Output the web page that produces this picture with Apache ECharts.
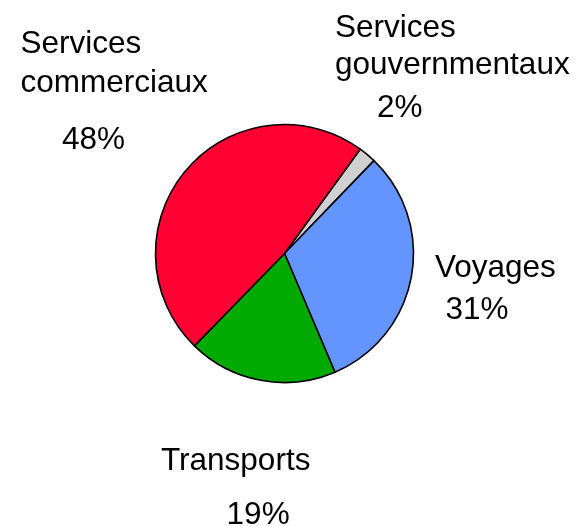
<!DOCTYPE html>
<html>
<head>
<meta charset="utf-8">
<script src="https://cdn.jsdelivr.net/npm/echarts@6/dist/echarts.min.js"></script>
<style>
  html, body { margin: 0; padding: 0; background: #fff; }
  #chart { width: 581px; height: 526px; }
</style>
</head>
<body>
<div id="chart"></div>
<script>
// slices, clockwise from the small grey one
const names = ['Services\ngouvernmentaux', 'Voyages', 'Transports', 'Services\ncommerciaux']
const values = [2.2, 31.4, 18.7, 47.7]
const colors = ['#d0d0d0', '#6495ff', '#00aa00', '#ff0033']

// where each label block sits (top-left), its line heights and the indent of the % line
const labelBox = [
  { x: 335, y: 9.9, nameLh: 36.7, pctLh: 49.9, indent: 42 },
  { x: 435, y: 248.2, nameLh: 40, pctLh: 44, indent: 10.4 },
  { x: 161, y: 441.2, nameLh: 40, pctLh: 68.5, indent: 65.6 },
  { x: 20.5, y: 24.25, nameLh: 39.3, pctLh: 74.7, indent: 41.5 }
]

const font = '"Liberation Sans", Arial, sans-serif'
const fontSize = 31.5

let myChart = echarts.init(document.getElementById('chart'))

let option = {
  animation: false,
  series: [
    {
      type: 'pie',
      center: [284.5, 253.5],
      radius: 129,
      startAngle: 54,
      clockwise: true,
      percentPrecision: 0,
      avoidLabelOverlap: false,
      itemStyle: { borderColor: '#000', borderWidth: 1.6 },
      emphasis: { disabled: true },
      labelLine: { show: false },
      label: {
        show: true,
        color: '#000',
        fontFamily: font,
        fontSize: fontSize,
        overflow: 'none',
        width: 300,
        formatter: function (p) {
          let lines = p.name.split('\n').map(s => '{n|' + s + '}')
          return lines.join('\n') + '\n{p|' + p.percent + '%}'
        }
      },
      labelLayout: function (params) {
        const b = labelBox[params.dataIndex]
        return { x: b.x, y: b.y, align: 'left', verticalAlign: 'top' }
      },
      data: names.map((n, i) => {
        const b = labelBox[i]
        return {
          name: n,
          value: values[i],
          itemStyle: { color: colors[i] },
          label: {
            rich: {
              n: { fontFamily: font, fontSize: fontSize, color: '#000', lineHeight: b.nameLh },
              p: { fontFamily: font, fontSize: fontSize, color: '#000', lineHeight: b.pctLh, padding: [0, 0, 0, b.indent] }
            }
          }
        }
      })
    }
  ]
}

myChart.setOption(option)
</script>
</body>
</html>
